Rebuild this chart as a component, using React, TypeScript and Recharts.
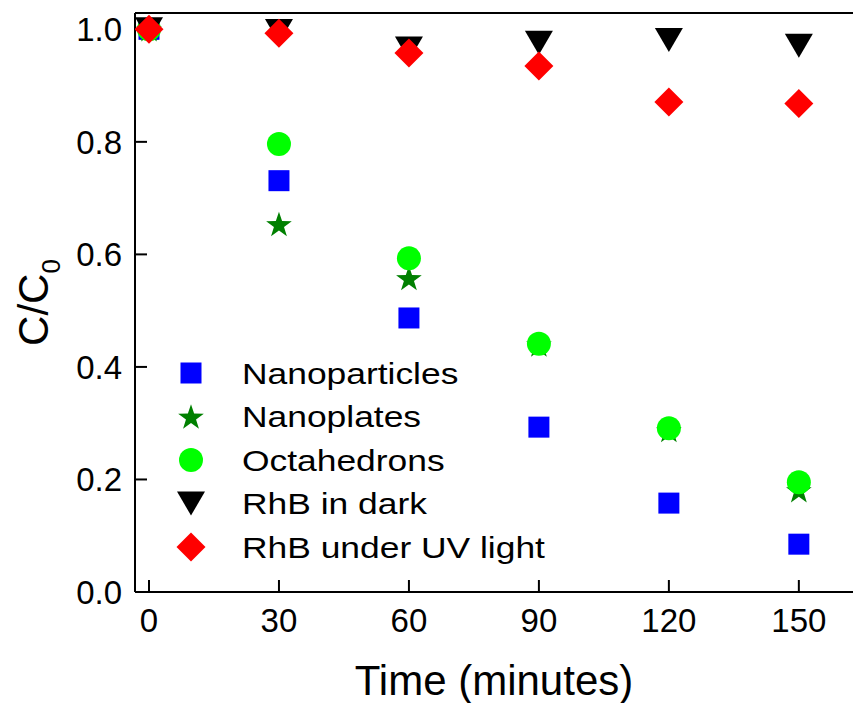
import { ScatterChart, Scatter, XAxis, YAxis, ReferenceLine, Legend, Label } from 'recharts';

const TIME = [0, 30, 60, 90, 120, 150];
const NANOPARTICLES = [1.0, 0.731, 0.487, 0.293, 0.158, 0.085];
const NANOPLATES = [1.0, 0.654, 0.558, 0.44, 0.288, 0.181];
const OCTAHEDRONS = [1.0, 0.796, 0.593, 0.441, 0.291, 0.195];
const RHB_DARK = [1.0, 0.997, 0.966, 0.976, 0.981, 0.971];
const RHB_UV = [1.0, 0.993, 0.958, 0.935, 0.871, 0.868];

const X_TICKS = [0, 30, 60, 90, 120, 150];
const Y_TICKS = [0, 0.2, 0.4, 0.6, 0.8, 1.0];
const X_DOMAIN = [-3.23, 162.5];
const Y_DOMAIN = [0, 1.029];

const FONT = '"Liberation Sans", Arial, sans-serif';

type Kind = 'square' | 'star' | 'circle' | 'triangle' | 'diamond';

const SERIES: { name: string; values: number[]; kind: Kind; color: string }[] = [
  { name: 'Nanoparticles', values: NANOPARTICLES, kind: 'square', color: '#0000ff' },
  { name: 'Nanoplates', values: NANOPLATES, kind: 'star', color: '#008000' },
  { name: 'Octahedrons', values: OCTAHEDRONS, kind: 'circle', color: '#00ff00' },
  { name: 'RhB in dark', values: RHB_DARK, kind: 'triangle', color: '#000000' },
  { name: 'RhB under UV light', values: RHB_UV, kind: 'diamond', color: '#ff0000' },
];

const toPoints = (values: number[]) => TIME.map((t, i) => ({ t, c: values[i] }));

function starPoints(cx: number, cy: number, outer: number, inner: number) {
  const pts: string[] = [];
  for (let i = 0; i < 10; i++) {
    const r = i % 2 === 0 ? outer : inner;
    const a = -Math.PI / 2 + (i * Math.PI) / 5;
    pts.push(`${cx + r * Math.cos(a)},${cy + r * Math.sin(a)}`);
  }
  return pts.join(' ');
}

function Marker({ kind, cx, cy, color }: { kind: Kind; cx: number; cy: number; color: string }) {
  switch (kind) {
    case 'square':
      return <rect x={cx - 10.5} y={cy - 10.5} width={21} height={21} fill={color} />;
    case 'circle':
      return <circle cx={cx} cy={cy} r={12} fill={color} />;
    case 'triangle':
      return <polygon points={`${cx - 14},${cy - 12} ${cx + 14},${cy - 12} ${cx},${cy + 12}`} fill={color} />;
    case 'diamond':
      return <polygon points={`${cx},${cy - 14.5} ${cx + 14.5},${cy} ${cx},${cy + 14.5} ${cx - 14.5},${cy}`} fill={color} />;
    case 'star':
      return <polygon points={starPoints(cx, cy + 1.3, 13.5, 5.3)} fill={color} />;
  }
  return null;
}

const XTick = ({ x, y, payload }: any) => (
  <text x={x} y={y + 27} textAnchor="middle" fontSize={33} fontFamily={FONT} fill="#000">
    {payload.value}
  </text>
);

const YTick = ({ x, y, payload }: any) => (
  <text x={x} y={y + 11.8} textAnchor="end" fontSize={33} fontFamily={FONT} fill="#000">
    {Number(payload.value).toFixed(1)}
  </text>
);

function LegendBox() {
  return (
    <svg width={400} height={222} style={{ display: 'block' }}>
      {SERIES.map((s, i) => {
        const cy = 23 + i * 43.5;
        return (
          <g key={s.name}>
            <Marker kind={s.kind} cx={21} cy={cy} color={s.color} />
            <text
              transform={`translate(72, ${cy + 10.5}) scale(1.18, 1)`}
              fontSize={30}
              fontFamily={FONT}
              fill="#000"
            >
              {s.name}
            </text>
          </g>
        );
      })}
    </svg>
  );
}

export default function App() {
  return (
    <div style={{ position: 'absolute', left: 0, top: 0, background: '#fff' }}>
      <ScatterChart width={853} height={703} margin={{ top: 13, right: 0, bottom: 0, left: 0 }}>
        <XAxis
          type="number"
          dataKey="t"
          domain={X_DOMAIN}
          ticks={X_TICKS}
          allowDataOverflow
          height={111}
          axisLine={{ stroke: '#000', strokeWidth: 2 }}
          tickLine={{ stroke: '#000', strokeWidth: 2 }}
          tickSize={-12}
          tickMargin={25}
          tick={<XTick />}
        >
          <Label
            content={({ viewBox }: any) => (
              <text
                x={viewBox.x + viewBox.width / 2}
                y={viewBox.y + 103}
                textAnchor="middle"
                fontSize={42}
                fontFamily={FONT}
                fill="#000"
              >
                Time (minutes)
              </text>
            )}
          />
        </XAxis>
        <YAxis
          type="number"
          dataKey="c"
          domain={Y_DOMAIN}
          ticks={Y_TICKS}
          allowDataOverflow
          width={135}
          axisLine={{ stroke: '#000', strokeWidth: 2 }}
          tickLine={{ stroke: '#000', strokeWidth: 2 }}
          tickSize={-12}
          tickMargin={25}
          tick={<YTick />}
        >
          <Label
            content={({ viewBox }: any) => (
              <text
                transform={`translate(48, ${viewBox.y + viewBox.height / 2}) rotate(-90)`}
                textAnchor="middle"
                fontSize={42}
                fontFamily={FONT}
                fill="#000"
              >
                C/C
                <tspan fontSize={26} dy={12}>0</tspan>
              </text>
            )}
          />
        </YAxis>
        <ReferenceLine y={Y_DOMAIN[1]} stroke="#000" strokeWidth={2} />
        <Legend
          layout="vertical"
          align="center"
          verticalAlign="middle"
          wrapperStyle={{ left: 170, top: 350, width: 400, height: 222 }}
          content={() => <LegendBox />}
        />
        {SERIES.map((s) => (
          <Scatter
            key={s.name}
            name={s.name}
            data={toPoints(s.values)}
            fill={s.color}
            isAnimationActive={false}
            shape={(p: any) => <Marker kind={s.kind} cx={p.cx} cy={p.cy} color={s.color} />}
          />
        ))}
      </ScatterChart>
    </div>
  );
}
